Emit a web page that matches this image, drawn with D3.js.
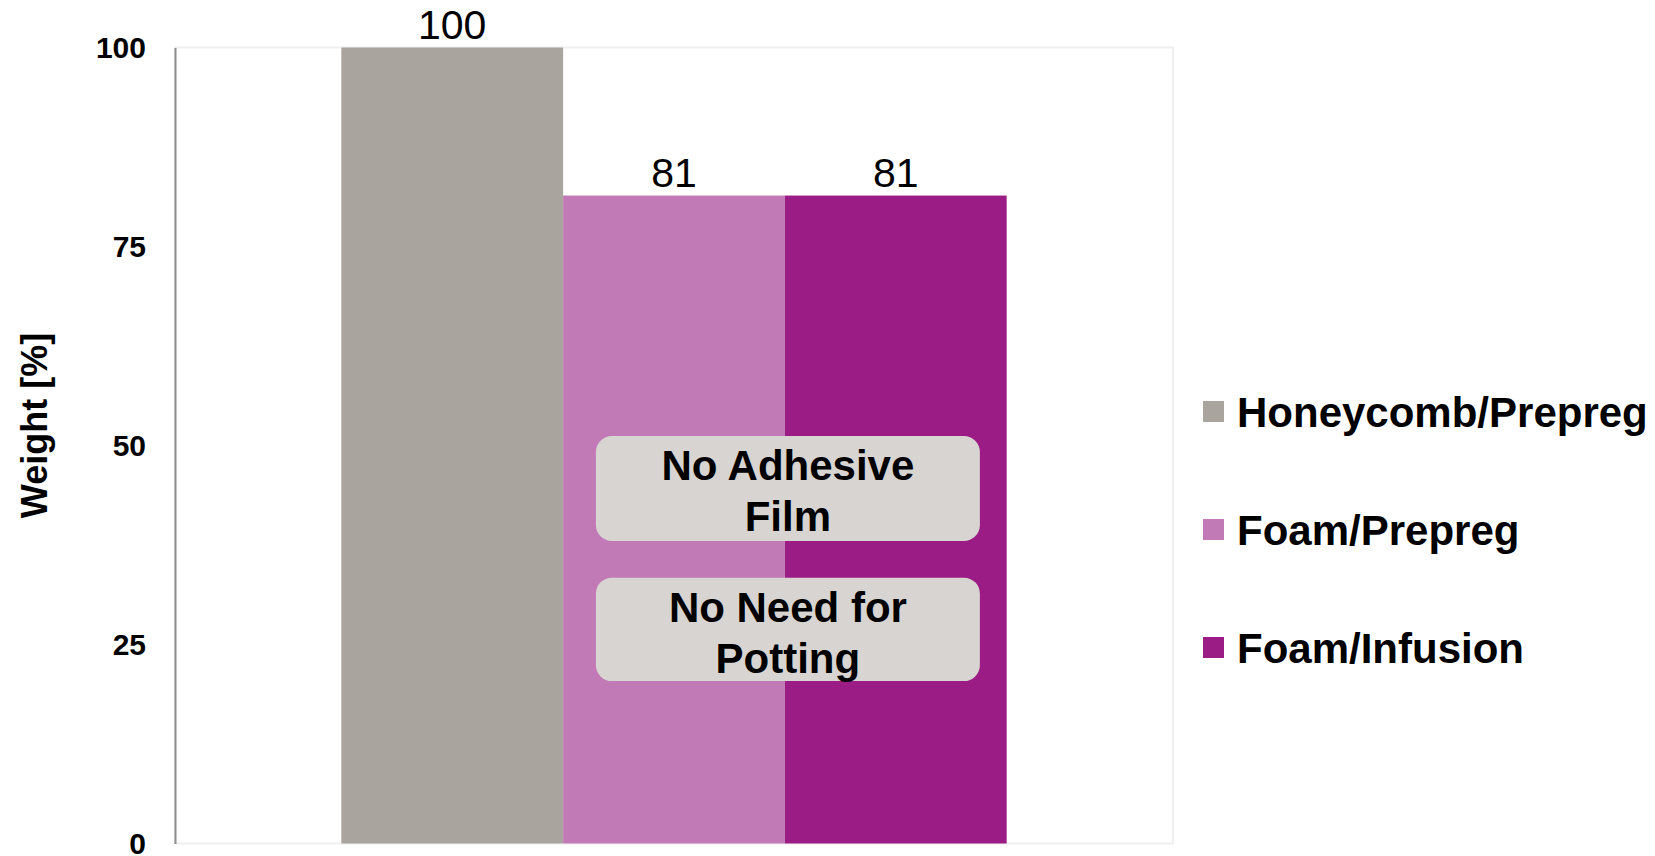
<!DOCTYPE html>
<html>
<head>
<meta charset="utf-8">
<script src="https://cdn.jsdelivr.net/npm/d3@7"></script>
<style>
	body { margin: 0; background: #fff; }
	svg text { font-family: "Liberation Sans", Arial, sans-serif; }
</style>
</head>
<body>
<div id="chart"></div>
<script>

// Chart data
var seriesNames = ["Honeycomb/Prepreg", "Foam/Prepreg", "Foam/Infusion"];
var seriesValues = [100, 81.4, 81.4];
var yTicks = [0, 25, 50, 75, 100];
var noteLines = [["No Adhesive", "Film"], ["No Need for", "Potting"]];
// value range covered by each note box
var noteRanges = [[51.2, 38.0], [33.4, 20.4]];

var colors = ["#a9a49e", "#c27ab6", "#9b1c84"];

var width = 1655,
	height = 856;

var margin = { top: 47.5, left: 175, bottom: 12.5, right: 482 };

var plotWidth = width - margin.left - margin.right,
	plotHeight = height - margin.top - margin.bottom;

var format = d3.format(".0f");

var svg = d3.select("#chart").append("svg")
	.attr("width", width)
	.attr("height", height);

var g = svg.append("g")
	.attr("transform", "translate(" + margin.left + "," + margin.top + ")");

// Scales
var xGroup = d3.scaleBand()
	.domain(["all"])
	.range([0, plotWidth])
	.paddingInner(0)
	.paddingOuter(0.25);

var xSeries = d3.scaleBand()
	.domain(seriesNames)
	.range([xGroup("all"), xGroup("all") + xGroup.bandwidth()]);

var yScale = d3.scaleLinear()
	.domain([0, 100])
	.range([plotHeight, 0]);

// Plot border
g.append("rect")
	.attr("x", 0)
	.attr("y", 0)
	.attr("width", plotWidth)
	.attr("height", plotHeight)
	.style("fill", "none")
	.style("stroke", "#efefef")
	.style("stroke-width", 2);

// Bars
g.selectAll(".bar")
	.data(seriesValues)
	.enter()
	.append("rect")
	.attr("class", "bar")
	.attr("x", function(d, i) { return xSeries(seriesNames[i]); })
	.attr("y", function(d) { return yScale(d); })
	.attr("width", xSeries.bandwidth())
	.attr("height", function(d) { return plotHeight - yScale(d); })
	.style("fill", function(d, i) { return colors[i]; });

// Value labels
g.selectAll(".value")
	.data(seriesValues)
	.enter()
	.append("text")
	.attr("class", "value")
	.attr("x", function(d, i) { return xSeries(seriesNames[i]) + xSeries.bandwidth() / 2; })
	.attr("y", function(d) { return yScale(d) - 9; })
	.style("text-anchor", "middle")
	.style("font-size", "41px")
	.style("fill", "#000")
	.text(function(d) { return format(d); });

// Y axis
var yAxis = d3.axisLeft()
	.scale(yScale)
	.tickValues(yTicks)
	.tickSize(0)
	.tickPadding(29);

var yAxisG = g.append("g")
	.attr("class", "axis y")
	.call(yAxis);

yAxisG.select(".domain")
	.style("stroke", "#8c8c8c")
	.style("stroke-width", 2);

yAxisG.selectAll("text")
	.style("font-family", "'Liberation Sans', Arial, sans-serif")
	.style("font-size", "30px")
	.style("font-weight", "bold")
	.style("fill", "#000");

// Y axis title
svg.append("text")
	.attr("transform", "translate(34," + (margin.top + plotHeight / 2 - 20) + ") rotate(-90)")
	.attr("dy", "0.35em")
	.style("text-anchor", "middle")
	.style("font-size", "36px")
	.style("font-weight", "bold")
	.text("Weight [%]");

// Note boxes, centered on the border between the two foam bars
var noteCenter = xSeries(seriesNames[2]) + 3;
var noteWidth = 384;

var notes = g.selectAll(".note")
	.data(noteLines)
	.enter()
	.append("g")
	.attr("class", "note");

notes.append("rect")
	.attr("x", noteCenter - noteWidth / 2)
	.attr("y", function(d, i) { return yScale(noteRanges[i][0]); })
	.attr("width", noteWidth)
	.attr("height", function(d, i) { return yScale(noteRanges[i][1]) - yScale(noteRanges[i][0]); })
	.attr("rx", 16)
	.attr("ry", 16)
	.style("fill", "#d7d4d1");

notes.each(function(lines, i) {
	var top = yScale(noteRanges[i][0]);
	d3.select(this).selectAll("text")
		.data(lines)
		.enter()
		.append("text")
		.attr("x", noteCenter)
		.attr("y", function(d, j) { return top + 44 + j * 51; })
		.style("text-anchor", "middle")
		.style("font-size", "42px")
		.style("font-weight", "bold")
		.text(function(d) { return d; });
});

// Legend
var legend = svg.append("g")
	.attr("transform", "translate(1203,0)");

var legendItems = legend.selectAll(".legend-item")
	.data(seriesNames)
	.enter()
	.append("g")
	.attr("class", "legend-item")
	.attr("transform", function(d, i) { return "translate(0," + (412 + i * 118) + ")"; });

legendItems.append("rect")
	.attr("x", 0)
	.attr("y", -11)
	.attr("width", 21)
	.attr("height", 21)
	.style("fill", function(d, i) { return colors[i]; });

legendItems.append("text")
	.attr("x", 34)
	.attr("y", 0)
	.attr("dy", "0.35em")
	.style("font-size", "42px")
	.style("font-weight", "bold")
	.text(function(d) { return d; });

</script>
</body>
</html>
